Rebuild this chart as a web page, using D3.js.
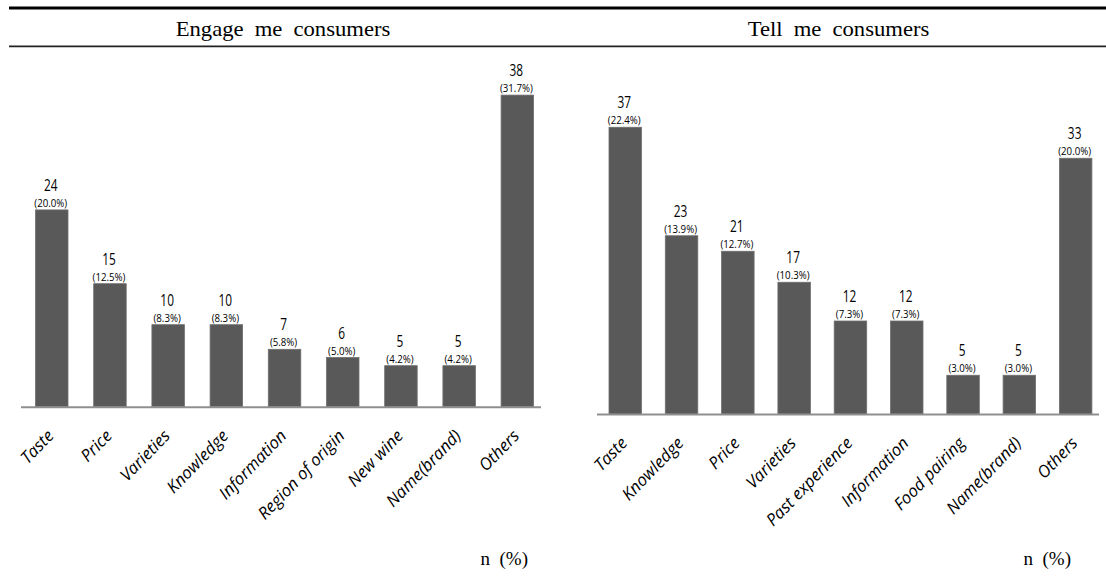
<!DOCTYPE html>
<html>
<head>
<meta charset="utf-8">
<script src="https://cdn.jsdelivr.net/npm/d3@7"></script>
<style>
  html, body { margin: 0; padding: 0; background: #fff; }
  svg { display: block; }
</style>
</head>
<body>
<svg id="chart" width="1106" height="581"></svg>
<script>
// ---- data ----
const titles = ["Engage me consumers", "Tell me consumers"];
const unitLabel = "n  (%)";

const leftCategories = ["Taste", "Price", "Varieties", "Knowledge", "Information", "Region of origin", "New wine", "Name(brand)", "Others"];
const leftCounts = [24, 15, 10, 10, 7, 6, 5, 5, 38];
const leftPercents = ["20.0", "12.5", "8.3", "8.3", "5.8", "5.0", "4.2", "4.2", "31.7"];

const rightCategories = ["Taste", "Knowledge", "Price", "Varieties", "Past experience", "Information", "Food pairing", "Name(brand)", "Others"];
const rightCounts = [37, 23, 21, 17, 12, 12, 5, 5, 33];
const rightPercents = ["22.4", "13.9", "12.7", "10.3", "7.3", "7.3", "3.0", "3.0", "20.0"];

// ---- layout ----
const svg = d3.select("#chart");
const BAR = "#595959";

// header rules
svg.append("line").attr("x1", 9).attr("x2", 1106).attr("y1", 8).attr("y2", 8)
  .attr("stroke", "#000").attr("stroke-width", 3);
svg.append("line").attr("x1", 9).attr("x2", 1106).attr("y1", 46.3).attr("y2", 46.3)
  .attr("stroke", "#222").attr("stroke-width", 1.8);

const panels = [
  { title: titles[0], cats: leftCategories, counts: leftCounts, pcts: leftPercents,
    firstBar: 35.5, step: 58.2, bw: 32.5, base: 406.7, pxPerUnit: 8.2,
    axis: [21, 541], titleX: 283, unitX: 528 },
  { title: titles[1], cats: rightCategories, counts: rightCounts, pcts: rightPercents,
    firstBar: 609, step: 56.3, bw: 32.5, base: 414, pxPerUnit: 7.75,
    axis: [597, 1099], titleX: 838.5, unitX: 1071 }
];

panels.forEach(p => {
  const n = p.cats.length;
  const pi = 1 - p.bw / p.step, po = pi / 2;
  const r0 = p.firstBar - po * p.step;
  const r1 = r0 + p.step * (n - pi + 2 * po);
  const x = d3.scaleBand().domain(p.cats).range([r0, r1]).paddingInner(pi).paddingOuter(po);
  const yMax = 40;
  const y = d3.scaleLinear().domain([0, yMax]).range([p.base, p.base - p.pxPerUnit * yMax]);

  // title
  svg.append("text")
    .attr("transform", `translate(${p.titleX},36) scale(1.08,1)`)
    .attr("text-anchor", "middle")
    .attr("font-family", "'Liberation Serif', 'Times New Roman', serif")
    .attr("font-size", 21)
    .attr("word-spacing", 5)
    .attr("fill", "#000")
    .text(p.title);

  const g = svg.append("g");
  const data = p.cats.map((c, i) => ({ c, v: p.counts[i], pct: p.pcts[i] }));

  g.selectAll("rect.bar").data(data).enter().append("rect")
    .attr("class", "bar")
    .attr("x", d => x(d.c))
    .attr("width", x.bandwidth())
    .attr("y", d => y(d.v))
    .attr("height", d => y(0) - y(d.v))
    .attr("fill", BAR)
    .attr("stroke", "#6e6e6e").attr("stroke-width", 0.8);

  // baseline
  g.append("line").attr("x1", p.axis[0]).attr("x2", p.axis[1])
    .attr("y1", p.base + 0.5).attr("y2", p.base + 0.5)
    .attr("stroke", "#8f8f8f").attr("stroke-width", 2);

  // value labels
  g.selectAll("text.val").data(data).enter().append("text")
    .attr("class", "val")
    .attr("transform", d => `translate(${x(d.c) + x.bandwidth() / 2 - 1},${y(d.v) - 19}) scale(0.72,1)`)
    .attr("text-anchor", "middle")
    .attr("font-family", "'Open Sans', 'Noto Sans', sans-serif")
    .attr("font-size", 16.5)
    .attr("fill", "#000")
    .text(d => d.v);

  g.selectAll("text.pct").data(data).enter().append("text")
    .attr("class", "pct")
    .attr("transform", d => `translate(${x(d.c) + x.bandwidth() / 2 - 1},${y(d.v) - 3}) scale(0.88,1)`)
    .attr("text-anchor", "middle")
    .attr("font-family", "'Open Sans', 'Noto Sans', sans-serif")
    .attr("font-size", 11)
    .attr("fill", "#000")
    .text(d => `(${d.pct}%)`);

  // category axis
  const ax = g.append("g").attr("transform", `translate(0,${p.base})`)
    .call(d3.axisBottom(x).tickSize(0).tickPadding(0));
  ax.select(".domain").remove();
  ax.selectAll("text")
    .attr("x", null).attr("y", null).attr("dy", null)
    .attr("text-anchor", "end")
    .attr("transform", `translate(3,30) rotate(-46)`)
    .attr("font-family", "'Open Sans', 'Noto Sans', sans-serif")
    .attr("font-style", "italic")
    .attr("font-size", 16.8)
    .attr("fill", "#000");

  // unit label
  svg.append("text")
    .attr("x", p.unitX).attr("y", 565)
    .attr("text-anchor", "end")
    .attr("font-family", "'Liberation Serif', 'Times New Roman', serif")
    .attr("font-size", 19)
    .attr("fill", "#000")
    .style("white-space", "pre")
    .text(unitLabel);
});
</script>
</body>
</html>
